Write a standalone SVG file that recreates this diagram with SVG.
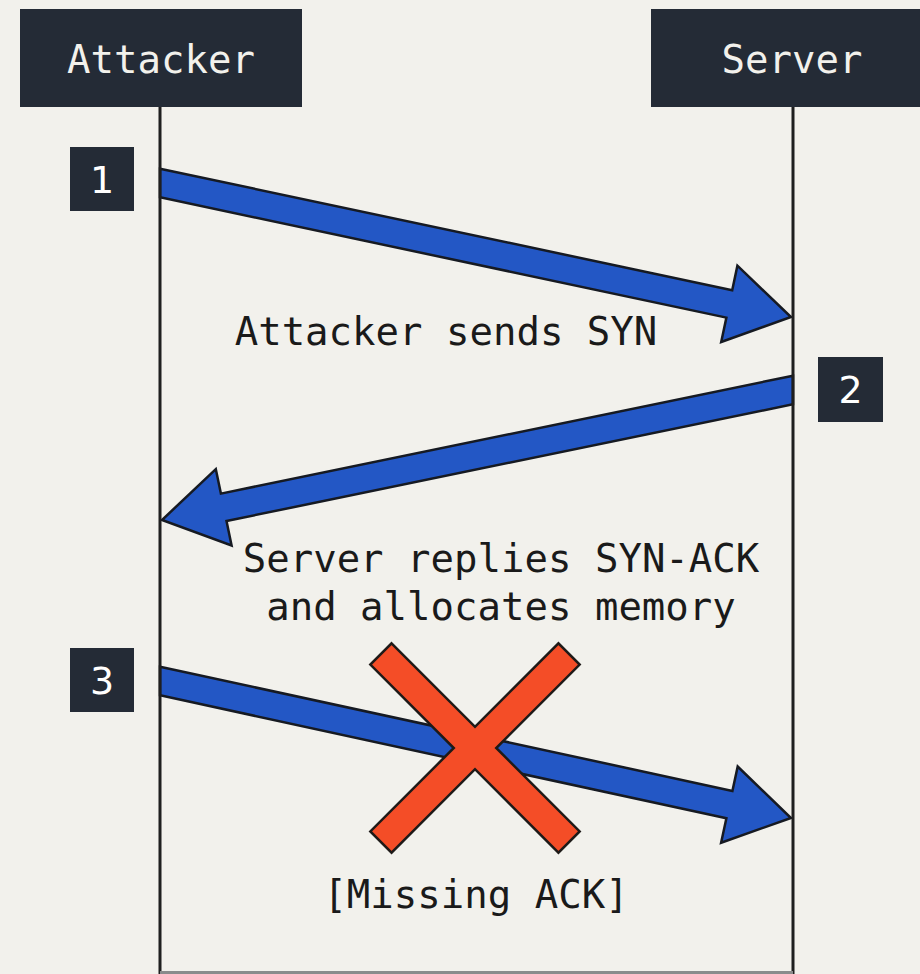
<svg xmlns="http://www.w3.org/2000/svg" width="920" height="974" viewBox="0 0 920 974">
  <style>
    .bg { fill: #f2f1ec; }
    .head { fill: #242b36; }
    .head-label { font-family: "DejaVu Sans Mono", "Liberation Mono", monospace; font-size: 39px; fill: #f2f1ec; text-anchor: middle; }
    .badge { fill: #242b36; }
    .badge-label { font-family: "DejaVu Sans", "Liberation Sans", sans-serif; font-size: 38px; fill: #ffffff; text-anchor: middle; }
    .lifeline { stroke: #1f1f1f; stroke-width: 3; fill: none; }
    .frame-bottom { stroke: #8a8c8c; stroke-width: 3; }
    .msg { fill: #2357c5; stroke: #161a22; stroke-width: 2.5; stroke-linejoin: miter; }
    .note { font-family: "DejaVu Sans Mono", "Liberation Mono", monospace; font-size: 39px; fill: #1a1a1a; text-anchor: middle; }
    .cross { fill: #f44d27; stroke: #1e1a18; stroke-width: 2.5; stroke-linejoin: miter; }
  </style>

  <rect class="bg" x="0" y="0" width="920" height="974"/>

  <!-- participants -->
  <g id="attacker">
    <rect class="head" x="20" y="9" width="282" height="98"/>
    <text class="head-label" x="161" y="73">Attacker</text>
  </g>
  <g id="server">
    <rect class="head" x="651" y="9" width="290" height="98"/>
    <text class="head-label" x="792" y="73">Server</text>
  </g>

  <!-- messages -->
  <g id="connectors">
    <polygon id="syn" class="msg" points="160,168.7 732.2,290.2 737.4,265.7 791,317 721.2,342 726.4,317.6 160,197.3"/>
    <polygon id="syn-ack" class="msg" points="793,375.7 220.9,493.6 215.8,469.1 162,520 231.6,545.5 226.5,521 793,404.3"/>
    <polygon id="ack" class="msg" points="160,666.7 732.4,790.9 737.7,766.5 791,818 721.1,842.7 726.4,818.3 160,695.3"/>
  </g>

  <!-- lifelines -->
  <g id="lifelines">
    <line class="lifeline" x1="160" y1="107" x2="160" y2="974"/>
    <line class="lifeline" x1="793" y1="107" x2="793" y2="974"/>
    <line class="frame-bottom" x1="160" y1="972.5" x2="793" y2="972.5"/>
  </g>

  <!-- step badges -->
  <g id="step1">
    <rect class="badge" x="70" y="147" width="64" height="64"/>
    <text class="badge-label" x="102" y="193">1</text>
  </g>
  <g id="step2">
    <rect class="badge" x="818" y="357" width="65" height="65"/>
    <text class="badge-label" x="850.5" y="403">2</text>
  </g>
  <g id="step3">
    <rect class="badge" x="70" y="648" width="64" height="64"/>
    <text class="badge-label" x="102" y="694">3</text>
  </g>

  <!-- message notes -->
  <g id="note-syn">
    <text class="note" x="446" y="345">Attacker sends SYN</text>
  </g>
  <g id="note-syn-ack">
    <text class="note" x="501" y="572">Server replies SYN-ACK</text>
    <text class="note" x="501" y="620">and allocates memory</text>
  </g>

  <!-- dropped ACK mark -->
  <g id="drop-mark" transform="translate(475 748) rotate(45)">
    <polygon class="cross" points="-133,-15 -15,-15 -15,-133 15,-133 15,-15 133,-15 133,15 15,15 15,133 -15,133 -15,15 -133,15"/>
  </g>
  <g id="note-missing">
    <text class="note" x="476" y="908">[Missing ACK]</text>
  </g>
</svg>
